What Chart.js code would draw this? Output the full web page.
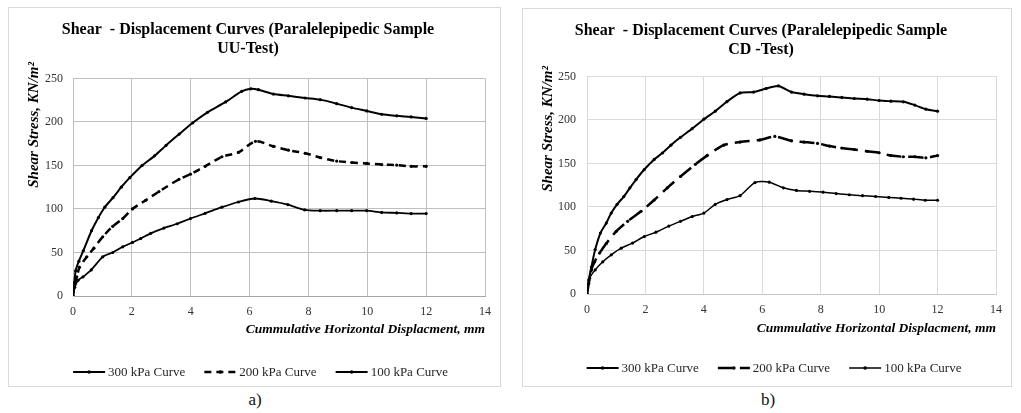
<!DOCTYPE html>
<html>
<head>
<meta charset="utf-8">
<script src="https://cdn.jsdelivr.net/npm/chart.js@4.4.1/dist/chart.umd.min.js"></script>
<style>
  html, body { margin: 0; padding: 0; background: #fff; }
  body { width: 1021px; height: 413px; position: relative; overflow: hidden; font-family: 'Liberation Serif', 'Times New Roman', serif; }
  .panel { position: absolute; box-sizing: border-box; border: 1px solid #d9d9d9; background: #fff; }
  .panel canvas { display: block; }
  .cap { position: absolute; top: 390px; font-size: 17px; color: #111; width: 40px; text-align: center; }
</style>
</head>
<body>
<div class="panel" id="boxA" style="left:8px; top:7px; width:493px; height:380px;"><canvas id="chartA"></canvas></div>
<div class="panel" id="boxB" style="left:522px; top:8px; width:490px; height:379px;"><canvas id="chartB"></canvas></div>
<div class="cap" style="left:235px;">a)</div>
<div class="cap" style="left:748px;">b)</div>
<script>
// ---- data (displacement mm / shear stress kN/m2) ----
const xTicks = [0, 2, 4, 6, 8, 10, 12, 14];
const yTicks = [0, 50, 100, 150, 200, 250];
const seriesNames = ['300 kPa Curve', '200 kPa Curve', '100 kPa Curve'];

// a) UU test
const uu300X = [0, 0.09, 0.2, 0.35, 0.63, 0.86, 1.08, 1.36, 1.64, 1.93, 2.35, 2.77, 3.16, 3.61, 4.07, 4.57, 5.19, 5.73, 6.04, 6.3, 6.81, 7.32, 7.89, 8.4, 8.96, 9.47, 9.98, 10.49, 11.0, 11.49, 12.0];
const uu300Y = [0, 29, 40, 52, 75, 90, 102, 113, 125, 136, 150, 161, 173, 186, 199, 211, 223, 235, 238, 237, 232, 230, 227.5, 225.6, 221, 216.4, 212.6, 208.8, 207, 205.7, 204];
const uu200X = [0, 0.06, 0.13, 0.22, 0.47, 0.71, 1.01, 1.35, 1.69, 2.02, 2.47, 2.92, 3.6, 3.99, 4.49, 5.06, 5.62, 6.2, 6.81, 7.32, 7.89, 8.4, 8.96, 9.47, 9.98, 10.49, 11.0, 11.49, 12.0];
const uu200Y = [0, 15, 22, 33, 45, 55, 68, 80, 89, 100, 110, 120, 134, 140, 149, 160, 165, 177.7, 172, 167.5, 164, 159, 155, 153.4, 152.3, 151, 150.4, 149, 149];
const uu100X = [0, 0.06, 0.17, 0.34, 0.62, 1.01, 1.35, 1.69, 2.02, 2.3, 2.64, 3.09, 3.54, 3.99, 4.49, 5.06, 5.62, 6.18, 6.74, 7.3, 7.87, 8.4, 8.96, 9.47, 9.98, 10.49, 11.0, 11.49, 12.0];
const uu100Y = [0, 10, 18, 22, 30, 45, 50, 56.5, 61.5, 66, 72, 78, 83, 89, 95, 102, 108, 112, 109, 105, 99, 98, 98, 98, 98, 96, 95.5, 94.7, 94.7];

// b) CD test
const cd300X = [0, 0.06, 0.15, 0.28, 0.46, 0.66, 0.83, 1.03, 1.26, 1.47, 1.68, 1.96, 2.3, 2.58, 2.87, 3.2, 3.6, 4.0, 4.39, 4.79, 5.24, 5.7, 6.13, 6.55, 7.0, 7.43, 7.89, 8.3, 8.72, 9.15, 9.59, 10.0, 10.4, 10.83, 11.22, 11.6, 12.0];
const cd300Y = [0, 16, 31, 51, 70, 81.5, 93, 103, 112, 122, 131.5, 143, 154.6, 162, 171, 180, 190, 200.8, 210, 221, 231, 232, 236, 239, 232, 229.6, 227.7, 227, 225.8, 224.6, 223.8, 222.3, 221.5, 220.8, 217, 212.3, 210];
const cd200X = [0, 0.06, 0.15, 0.26, 0.43, 0.66, 1.0, 1.39, 1.85, 2.3, 2.75, 3.2, 3.71, 4.11, 4.68, 5.24, 5.92, 6.43, 7.0, 7.43, 7.89, 8.3, 8.72, 9.15, 9.59, 10.0, 10.4, 10.83, 11.22, 11.6, 12.0];
const cd200Y = [0, 12, 27.7, 37, 47, 58, 72, 83.5, 95, 108, 122, 135, 149, 159, 171, 174.6, 177, 181, 176, 174.6, 173, 170, 167.7, 166, 164, 162.3, 159, 157.7, 157.7, 156.5, 159];
const cd100X = [0, 0.09, 0.28, 0.54, 0.83, 1.17, 1.56, 1.96, 2.36, 2.8, 3.2, 3.6, 4.0, 4.39, 4.79, 5.24, 5.75, 6.24, 6.72, 7.17, 7.62, 8.08, 8.53, 8.98, 9.43, 9.88, 10.33, 10.75, 11.18, 11.58, 12.0];
const cd100Y = [0, 18, 27.7, 37, 45, 52.7, 58.5, 66, 71, 78, 83.5, 89, 93, 103, 108.5, 113, 128, 128.5, 122, 119, 118, 117, 115.4, 114, 113, 112, 111, 110, 109, 107.7, 107.7];

const titleA = ['Shear  - Displacement Curves (Paralelepipedic Sample', 'UU-Test)'];
const titleB = ['Shear  - Displacement Curves (Paralelepipedic Sample', 'CD -Test)'];
const yTitle = 'Shear Stress, KN/m\u00B2';
const xTitle = 'Cummulative Horizontal Displacment, mm';

const FONT = "'Liberation Serif', 'Times New Roman', serif";
Chart.defaults.font.family = FONT;
Chart.defaults.color = '#404040';

function toPoints(xs, ys) {
  return xs.map((x, i) => ({ x, y: ys[i] }));
}

function lineDataset(label, xs, ys, width, dash) {
  return {
    label,
    data: toPoints(xs, ys),
    borderColor: '#000',
    backgroundColor: '#000',
    borderWidth: width,
    borderDash: dash,
    pointRadius: 1.6,
    pointBorderWidth: 0,
    pointBackgroundColor: '#000',
    tension: 0.25,
    fill: false
  };
}

// y title sits above the top of the axis in the original, so it is drawn here
const yAxisTitle = {
  id: 'yAxisTitle',
  afterDraw(chart, args, opts) {
    const ctx = chart.ctx;
    ctx.save();
    ctx.translate(opts.x, opts.end);
    ctx.rotate(-Math.PI / 2);
    ctx.font = 'italic bold 15px ' + FONT;
    ctx.fillStyle = '#000';
    ctx.textAlign = 'right';
    ctx.textBaseline = 'middle';
    ctx.fillText(yTitle, 0, 0);
    ctx.restore();
  }
};

// legend drawn by hand: line sample with a dot in the middle, then the label
const lineLegend = {
  id: 'lineLegend',
  afterDraw(chart, args, opts) {
    const ctx = chart.ctx;
    const items = chart.data.datasets;
    ctx.save();
    ctx.font = '13px ' + FONT;
    const sample = opts.sample, gap = 3, spacing = 19;
    const widths = items.map(d => sample + gap + ctx.measureText(d.label).width);
    const total = widths.reduce((a, b) => a + b, 0) + spacing * (items.length - 1);
    let x = chart.width / 2 + opts.shift - total / 2;
    const y = opts.y;
    items.forEach((d, i) => {
      ctx.strokeStyle = d.borderColor;
      ctx.lineWidth = d.borderWidth;
      ctx.setLineDash(d.borderDash || []);
      ctx.beginPath();
      ctx.moveTo(x, y);
      ctx.lineTo(x + sample, y);
      ctx.stroke();
      ctx.setLineDash([]);
      ctx.fillStyle = '#000';
      ctx.beginPath();
      ctx.arc(x + sample / 2, y, 1.8, 0, Math.PI * 2);
      ctx.fill();
      ctx.fillStyle = '#262626';
      ctx.textBaseline = 'middle';
      ctx.textAlign = 'left';
      ctx.fillText(d.label, x + sample + gap, y + 1);
      x += widths[i] + spacing;
    });
    ctx.restore();
  }
};

function makeChart(canvas, box, title, datasets, look) {
  canvas.width = box.clientWidth;
  canvas.height = box.clientHeight;
  return new Chart(canvas.getContext('2d'), {
    type: 'line',
    data: { datasets },
    plugins: [lineLegend, yAxisTitle],
    options: {
      responsive: false,
      animation: false,
      layout: { padding: { left: 0, right: look.padRight, top: 0, bottom: look.padBottom } },
      plugins: {
        legend: { display: false },
        tooltip: { enabled: false },
        title: {
          display: true,
          text: title,
          color: '#000',
          font: { size: 16, weight: 'bold', lineHeight: 1.2 },
          padding: { top: 12, bottom: look.titleGap }
        },
        lineLegend: { y: look.legendY, sample: 32, shift: look.legendShift },
        yAxisTitle: { x: 25, end: look.yTitleEnd }
      },
      scales: {
        x: {
          type: 'linear',
          min: 0,
          max: 14,
          afterBuildTicks: s => { s.ticks = xTicks.map(v => ({ value: v })); },
          afterFit: s => { s.height = 48; },
          grid: { color: look.grid, drawTicks: false },
          border: { color: look.axis, width: 1 },
          ticks: { padding: 9, font: { size: 12 }, color: '#333', maxRotation: 0 },
          title: {
            display: true,
            text: xTitle,
            align: 'end',
            color: '#000',
            font: { size: 13.5, weight: 'bold', style: 'italic' },
            padding: { top: 0, bottom: look.xTitlePad }
          }
        },
        y: {
          min: 0,
          max: 250,
          afterBuildTicks: s => { s.ticks = yTicks.map(v => ({ value: v })); },
          afterFit: s => { s.width = 64; },
          grid: { color: look.grid, drawTicks: false },
          border: { color: look.grid, width: 1 },
          ticks: { padding: look.yTickPad, font: { size: 12 }, color: '#333' },
          title: { display: false }
        }
      }
    }
  });
}

makeChart(document.getElementById('chartA'), document.getElementById('boxA'), titleA, [
  lineDataset(seriesNames[0], uu300X, uu300Y, 2, []),
  lineDataset(seriesNames[1], uu200X, uu200Y, 2.5, [7, 5]),
  lineDataset(seriesNames[2], uu100X, uu100Y, 1.8, [])
], { padRight: 13, padBottom: 42, titleGap: 20, legendY: 364, legendShift: 6, grid: '#bfbfbf', axis: '#a6a6a6', xTitlePad: 6, yTickPad: 10, yTitleEnd: 54 });

makeChart(document.getElementById('chartB'), document.getElementById('boxB'), titleB, [
  lineDataset(seriesNames[0], cd300X, cd300Y, 2, []),
  lineDataset(seriesNames[1], cd200X, cd200Y, 2.5, [15, 7]),
  lineDataset(seriesNames[2], cd100X, cd100Y, 1.5, [])
], { padRight: 12, padBottom: 44, titleGap: 17, legendY: 359, legendShift: 7, grid: '#d9d9d9', axis: '#c8c8c8', xTitlePad: 5, yTickPad: 11, yTitleEnd: 57 });
</script>
</body>
</html>
